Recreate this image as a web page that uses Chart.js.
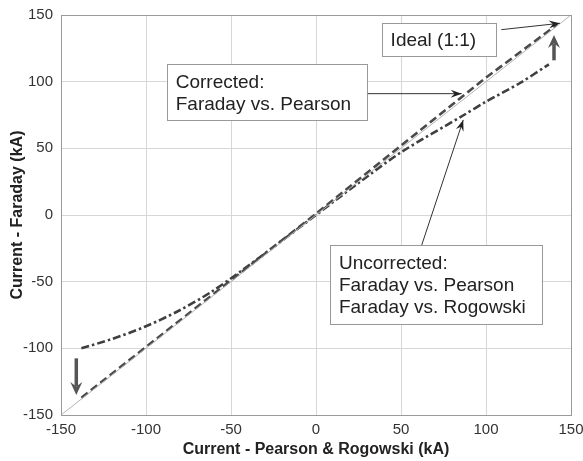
<!DOCTYPE html>
<html lang="en">
<head>
  <meta charset="UTF-8" />
  <title>Current - Faraday vs. Pearson &amp; Rogowski</title>
  <script src="https://cdn.jsdelivr.net/npm/chart.js"></script>
  <style>
    body { margin: 0; background: #fff; }
    .chart-box { width: 583px; height: 461px; }
  </style>
</head>
<body>
  <div class="chart-box"><canvas id="currentChart"></canvas></div>

<script>
  // tick values (kA), same on both axes
  const tickValues = [-150, -100, -50, 0, 50, 100, 150];

  // ideal 1:1 line
  const idealX = [-150, 150];
  const idealY = [-150, 150];

  // corrected: Faraday vs. Pearson
  const correctedX = [-138, -100, -50, 0, 50, 100, 142];
  const correctedY = [-137, -99, -49, 1, 52, 103, 143];

  // uncorrected: Faraday vs. Pearson / Rogowski
  const uncorrectedX = [-138, -120, -101, -81, -62, -44, -25, 0, 25, 50, 87, 100, 120, 137];
  const uncorrectedY = [-100, -93, -84, -72, -58, -42, -24, 0, 24, 47, 75, 85, 99, 113];

  const toPoints = (xs, ys) => xs.map((x, i) => ({ x: x, y: ys[i] }));

  // text boxes with pointer arrows, placed in data units
  const notes = [
    { lines: ['Ideal (1:1)'], box: [38.6, 143.8, 105.5, 119.3], from: [109, 139], to: [143.5, 143.8] },
    { lines: ['Corrected:', 'Faraday vs. Pearson'], box: [-87.8, 113, 29.8, 70.7], from: [29.8, 91], to: [85.7, 91] },
    { lines: ['Uncorrected:', 'Faraday vs. Pearson', 'Faraday vs. Rogowski'], box: [8.2, -22.5, 132.8, -82], from: [62.2, -22.5], to: [86.6, 71.3] }
  ];
  // thick shift arrows
  const bigArrows = [
    { x: -141, from: -107.5, to: -135 },
    { x: 140, from: 116, to: 135 }
  ];

  function arrowHead(ctx, x1, y1, x2, y2, len, width) {
    const a = Math.atan2(y2 - y1, x2 - x1);
    const ux = Math.cos(a), uy = Math.sin(a);
    const nx = -uy, ny = ux;
    ctx.beginPath();
    ctx.moveTo(x2, y2);
    ctx.lineTo(x2 - ux * len + nx * width / 2, y2 - uy * len + ny * width / 2);
    ctx.lineTo(x2 - ux * len * 0.65, y2 - uy * len * 0.65);
    ctx.lineTo(x2 - ux * len - nx * width / 2, y2 - uy * len - ny * width / 2);
    ctx.closePath();
    ctx.fill();
  }

  const notesPlugin = {
    id: 'notes',
    afterDatasetsDraw(chart) {
      const ctx = chart.ctx;
      const xs = chart.scales.x, ys = chart.scales.y;
      const area = chart.chartArea;
      ctx.save();

      // frame around the plot
      ctx.strokeStyle = '#9a9a9a';
      ctx.lineWidth = 1;
      ctx.strokeRect(area.left + 0.5, area.top + 0.5, area.right - area.left, area.bottom - area.top);

      // thick arrows
      ctx.strokeStyle = '#555';
      ctx.fillStyle = '#555';
      bigArrows.forEach(b => {
        const px = xs.getPixelForValue(b.x);
        const p1 = ys.getPixelForValue(b.from);
        const p2 = ys.getPixelForValue(b.to);
        const dir = p2 > p1 ? 1 : -1;
        ctx.lineWidth = 3.5;
        ctx.beginPath();
        ctx.moveTo(px, p1);
        ctx.lineTo(px, p2 - dir * 9);
        ctx.stroke();
        arrowHead(ctx, px, p1, px, p2, 13, 12);
      });

      // text boxes and thin arrows
      ctx.font = '19px "Liberation Sans", Arial, sans-serif';
      ctx.textBaseline = 'middle';
      ctx.textAlign = 'left';
      notes.forEach(n => {
        const l = xs.getPixelForValue(n.box[0]);
        const t = ys.getPixelForValue(n.box[1]);
        const r = xs.getPixelForValue(n.box[2]);
        const btm = ys.getPixelForValue(n.box[3]);

        const fx = xs.getPixelForValue(n.from[0]), fy = ys.getPixelForValue(n.from[1]);
        const tx = xs.getPixelForValue(n.to[0]), ty = ys.getPixelForValue(n.to[1]);
        ctx.strokeStyle = '#333';
        ctx.fillStyle = '#222';
        ctx.lineWidth = 1;
        ctx.beginPath();
        ctx.moveTo(fx, fy);
        ctx.lineTo(tx, ty);
        ctx.stroke();
        arrowHead(ctx, fx, fy, tx, ty, 11, 8);

        ctx.fillStyle = '#fff';
        ctx.fillRect(l, t, r - l, btm - t);
        ctx.strokeStyle = '#999';
        ctx.strokeRect(Math.round(l) + 0.5, Math.round(t) + 0.5, Math.round(r - l), Math.round(btm - t));

        const lh = 21.7;
        const cy = (t + btm) / 2;
        ctx.fillStyle = '#222';
        n.lines.forEach((txt, i) => {
          ctx.fillText(txt, l + 9, cy + (i - (n.lines.length - 1) / 2) * lh + 1);
        });
      });
      ctx.restore();
    }
  };

  const axisFont = { family: '"Liberation Sans", Arial, sans-serif', size: 15 };
  const titleFont = { family: '"Liberation Sans", Arial, sans-serif', size: 16, weight: 'bold' };
  const setTicks = scale => { scale.ticks = tickValues.map(v => ({ value: v })); };

  new Chart(document.getElementById('currentChart'), {
    type: 'scatter',
    data: {
      datasets: [
        {
          label: 'Ideal (1:1)',
          data: toPoints(idealX, idealY),
          showLine: true,
          borderColor: '#b5b5b5',
          borderWidth: 1,
          pointRadius: 0
        },
        {
          label: 'Corrected: Faraday vs. Pearson',
          data: toPoints(correctedX, correctedY),
          showLine: true,
          borderColor: '#4a4a4a',
          borderWidth: 2.6,
          borderDash: [8, 4],
          pointRadius: 0
        },
        {
          label: 'Uncorrected: Faraday vs. Pearson / Rogowski',
          data: toPoints(uncorrectedX, uncorrectedY),
          showLine: true,
          borderColor: '#3f3f3f',
          borderWidth: 2.6,
          borderDash: [8, 3, 2.5, 3],
          tension: 0.3,
          pointRadius: 0
        }
      ]
    },
    options: {
      responsive: true,
      maintainAspectRatio: false,
      animation: false,
      layout: { padding: { top: 15, right: 12, left: 0, bottom: 0 } },
      plugins: {
        legend: { display: false },
        tooltip: { enabled: false }
      },
      scales: {
        x: {
          type: 'linear',
          min: -150,
          max: 150,
          afterBuildTicks: setTicks,
          afterFit: s => { s.height = 46; s.paddingLeft = 0; s.paddingRight = 0; },
          grid: { color: '#d6d6d6', drawTicks: false },
          border: { color: '#9a9a9a' },
          ticks: { font: axisFont, color: '#333', padding: 6, maxRotation: 0 },
          title: {
            display: true,
            text: 'Current - Pearson & Rogowski (kA)',
            font: titleFont,
            color: '#222',
            padding: { top: 0, bottom: 2 }
          }
        },
        y: {
          type: 'linear',
          min: -150,
          max: 150,
          afterBuildTicks: setTicks,
          afterFit: s => { s.width = 61; s.paddingTop = 0; s.paddingBottom = 0; },
          grid: { color: '#d6d6d6', drawTicks: false },
          border: { color: '#9a9a9a' },
          ticks: { font: axisFont, color: '#333', padding: 8 },
          title: {
            display: true,
            text: 'Current - Faraday (kA)',
            font: titleFont,
            color: '#222',
            padding: { top: 8, bottom: 0 }
          }
        }
      }
    },
    plugins: [notesPlugin]
  });
</script>
</body>
</html>
